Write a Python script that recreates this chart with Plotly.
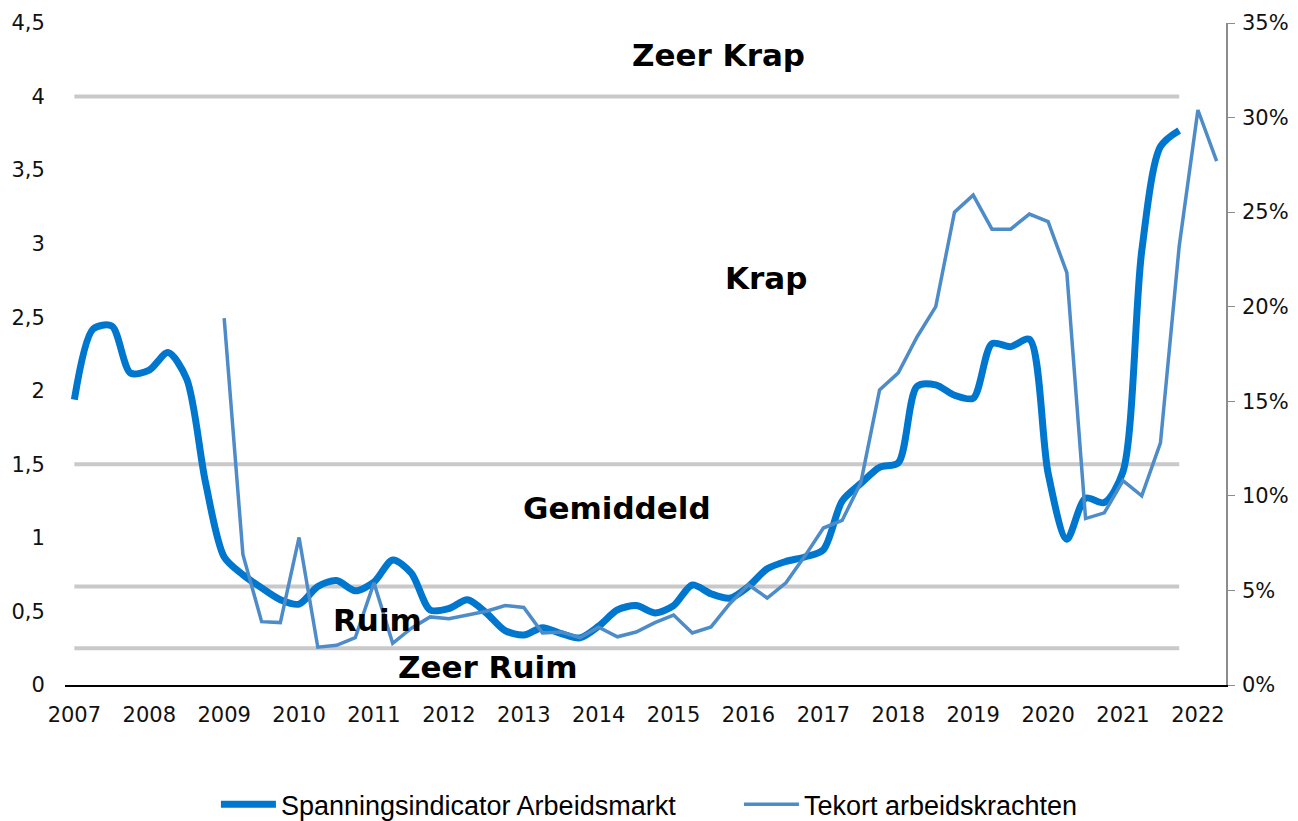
import plotly.graph_objects as go

# ---- data ----
start_main = 2007.0          # first quarter of the tension indicator
start_tekort = 2009.0        # first quarter of labour shortage series

spanning = [
    1.94, 2.42, 2.44, 2.12,   # 2007
    2.14, 2.26, 2.08, 1.38,   # 2008
    0.87, 0.75, 0.66, 0.58,   # 2009
    0.55, 0.67, 0.71, 0.64,   # 2010
    0.70, 0.85, 0.76, 0.51,   # 2011
    0.52, 0.58, 0.49, 0.37,   # 2012
    0.34, 0.39, 0.35, 0.32,   # 2013
    0.40, 0.51, 0.54, 0.49,   # 2014
    0.54, 0.68, 0.62, 0.59,   # 2015
    0.67, 0.79, 0.84, 0.87,   # 2016
    0.92, 1.25, 1.37, 1.48,   # 2017
    1.51, 2.03, 2.04, 1.97,   # 2018
    1.95, 2.32, 2.30, 2.35,   # 2019
    1.44, 0.99, 1.27, 1.24,   # 2020
    1.45, 2.95, 3.66, 3.77,   # 2021
]

tekort_pct = [
    19.4, 6.9, 3.35, 3.3,     # 2009
    7.8, 2.0, 2.1, 2.5,       # 2010
    5.4, 2.2, 3.0, 3.6,       # 2011
    3.5, 3.7, 3.9, 4.2,       # 2012
    4.1, 2.75, 2.8, 2.5,      # 2013
    3.05, 2.55, 2.8, 3.3,     # 2014
    3.7, 2.75, 3.07, 4.3,     # 2015
    5.3, 4.6, 5.4, 6.8,       # 2016
    8.3, 8.7, 10.7, 15.6,     # 2017
    16.5, 18.4, 20.0, 25.0,   # 2018
    25.9, 24.1, 24.1, 24.9,   # 2019
    24.5, 21.8, 8.8, 9.1,     # 2020
    10.8, 10.0, 12.8, 23.2,   # 2021
    30.4, 27.7,               # 2022
]

thresholds = [0.25, 0.67, 1.5, 4.0]

zone_labels = ["Zeer Krap", "Krap", "Gemiddeld", "Ruim", "Zeer Ruim"]
zone_x = [2015.6, 2016.23, 2014.24, 2011.05, 2012.51]
zone_y = [4.28, 2.77, 1.20, 0.44, 0.12]

year_ticks = list(range(2007, 2023))
left_tickvals = [0, 0.5, 1, 1.5, 2, 2.5, 3, 3.5, 4, 4.5]
left_ticktext = ["0", "0,5", "1", "1,5", "2", "2,5", "3", "3,5", "4", "4,5"]
right_tickvals = [0, 0.05, 0.10, 0.15, 0.20, 0.25, 0.30, 0.35]
right_ticktext = ["0%", "5%", "10%", "15%", "20%", "25%", "30%", "35%"]

# ---- build ----
x_main = [start_main + 0.25 * i for i in range(len(spanning))]
x_tek = [start_tekort + 0.25 * i for i in range(len(tekort_pct))]
tekort = [v / 100 for v in tekort_pct]

fig = go.Figure()

for t in thresholds:
    fig.add_trace(go.Scatter(
        x=[x_main[0], x_main[-1]], y=[t, t], mode="lines",
        line=dict(color="#c9c9c9", width=4), showlegend=False, hoverinfo="skip"))

fig.add_trace(go.Scatter(
    x=x_main, y=spanning, mode="lines", name="Spanningsindicator Arbeidsmarkt",
    line=dict(color="#0077CF", width=7, shape="spline", smoothing=0.8),
    legend="legend"))

fig.add_trace(go.Scatter(
    x=x_tek, y=tekort, mode="lines", name="Tekort arbeidskrachten", yaxis="y2",
    line=dict(color="#4D8CC8", width=3.5), legend="legend2"))

for lab, xx, yy in zip(zone_labels, zone_x, zone_y):
    fig.add_annotation(x=xx, y=yy, text="<b>" + lab + "</b>", showarrow=False,
                       font=dict(family="DejaVu Sans", size=31, color="black"),
                       xanchor="center", yanchor="middle")

tick_font = dict(family="DejaVu Sans", size=21, color="#111111")
legend_font = dict(family="Liberation Sans", size=27, color="black")

fig.update_layout(
    width=1298, height=821,
    margin=dict(l=57, r=80, t=15, b=144, autoexpand=False),
    plot_bgcolor="white", paper_bgcolor="white",
    showlegend=True,
    legend=dict(orientation="h", x=0.130, xanchor="left",
                y=-0.181, yanchor="middle", font=legend_font, itemwidth=55),
    legend2=dict(orientation="h", x=0.5805, xanchor="left",
                 y=-0.181, yanchor="middle", font=legend_font, itemwidth=55),
    xaxis=dict(range=[2006.875, 2022.375], tickvals=year_ticks,
               ticktext=[str(y) for y in year_ticks],
               showgrid=False, zeroline=False, showline=True, linecolor="black",
               linewidth=1.5, ticks="outside", ticklen=10, tickcolor="rgba(0,0,0,0)",
               tickfont=tick_font),
    yaxis=dict(range=[0, 4.5], tickvals=left_tickvals, ticktext=left_ticktext,
               showgrid=False, zeroline=False, showline=False,
               ticks="outside", ticklen=15, tickcolor="rgba(0,0,0,0)",
               tickfont=tick_font),
    yaxis2=dict(range=[0, 0.35], overlaying="y", side="right",
                tickvals=right_tickvals, ticktext=right_ticktext,
                showgrid=False, zeroline=False, showline=True, linecolor="#8c8c8c",
                linewidth=1.5, ticks="outside", ticklen=7, tickcolor="#8c8c8c",
                ticklabelstandoff=3, tickfont=tick_font),
)

fig.write_html("out.html")
